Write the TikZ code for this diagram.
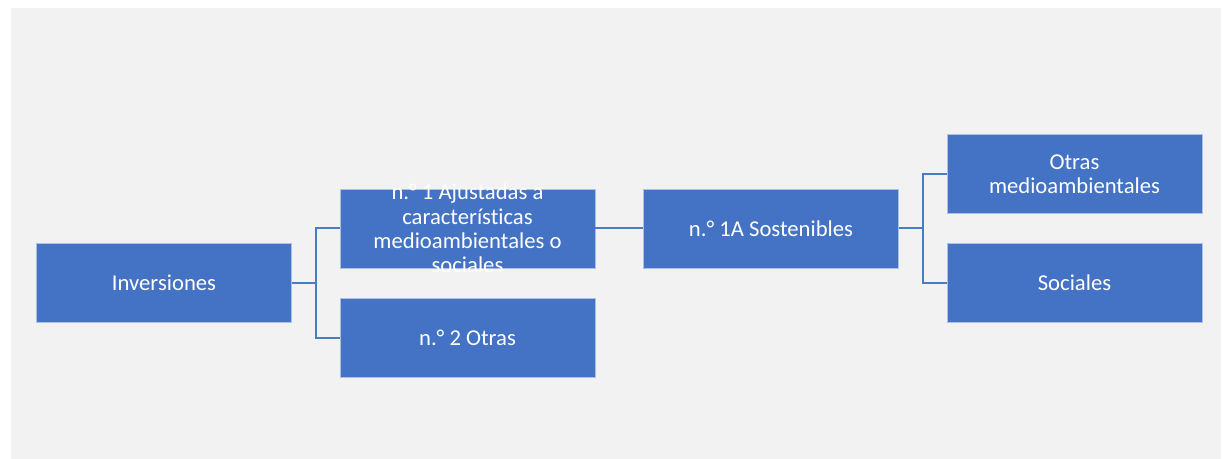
\documentclass[tikz,border=0pt]{standalone}
\usepackage{fontspec}
\setmainfont[Ligatures=NoCommon]{Carlito}
\usetikzlibrary{positioning}
\usetikzlibrary{calc}
\definecolor{boxblue}{RGB}{68,114,196}
\definecolor{linkblue}{RGB}{72,126,190}
\definecolor{panel}{RGB}{242,242,242}

\tikzset{
  boxfont/.style={text=white, align=center, font=\fontsize{17}{18.3}\selectfont},
  catbox/.style={rectangle, fill=boxblue, draw=white!55!boxblue, line width=0.4pt,
    minimum width=191.25pt, minimum height=59.25pt, inner sep=0pt, boxfont},
  link/.style={draw=linkblue, line width=1.5pt}
}

\begin{document}
\begin{tikzpicture}[x=0.75pt,y=-0.75pt]

%---------------------------------------
% Page and panel
%---------------------------------------
\fill[white] (0,0) rectangle (1226,459);
\useasboundingbox (0,0) rectangle (1226,459);
\fill[panel] (11,8) rectangle (1221,459);

%---------------------------------------
% Boxes
%---------------------------------------
\node[catbox] (inv)   at (164,283)   {Inversiones};
% text runs over the box edges, so it is set as a label
\node[catbox, label={[boxfont]center:n.° 1 Ajustadas a\\características\\medioambientales o\\sociales}]
      (nuno)  at (467.5,228.5) {};
\node[catbox] (ndos)  at (467.5,338)   {n.° 2 Otras};
\node[catbox] (nsost) at (771,228.5) {n.° 1A Sostenibles};
\node[catbox] (omed)  at (1074.5,174)  {Otras\\medioambientales};
\node[catbox] (soc)   at (1074.5,283)  {Sociales};

%---------------------------------------
% Connectors
%---------------------------------------
\coordinate (jinv)  at ($(inv.east)!0.5!(inv.east -| nuno.west)$);
\coordinate (jsost) at ($(nsost.east)!0.5!(nsost.east -| omed.west)$);

\draw[link] (inv.east) -- (jinv) |- (nuno.west);
\draw[link] (jinv) |- (ndos.west);
\draw[link] (nuno.east) -- (nsost.west);
\draw[link] (nsost.east) -- (jsost) |- (omed.west);
\draw[link] (jsost) |- (soc.west);

\end{tikzpicture}
\end{document}
